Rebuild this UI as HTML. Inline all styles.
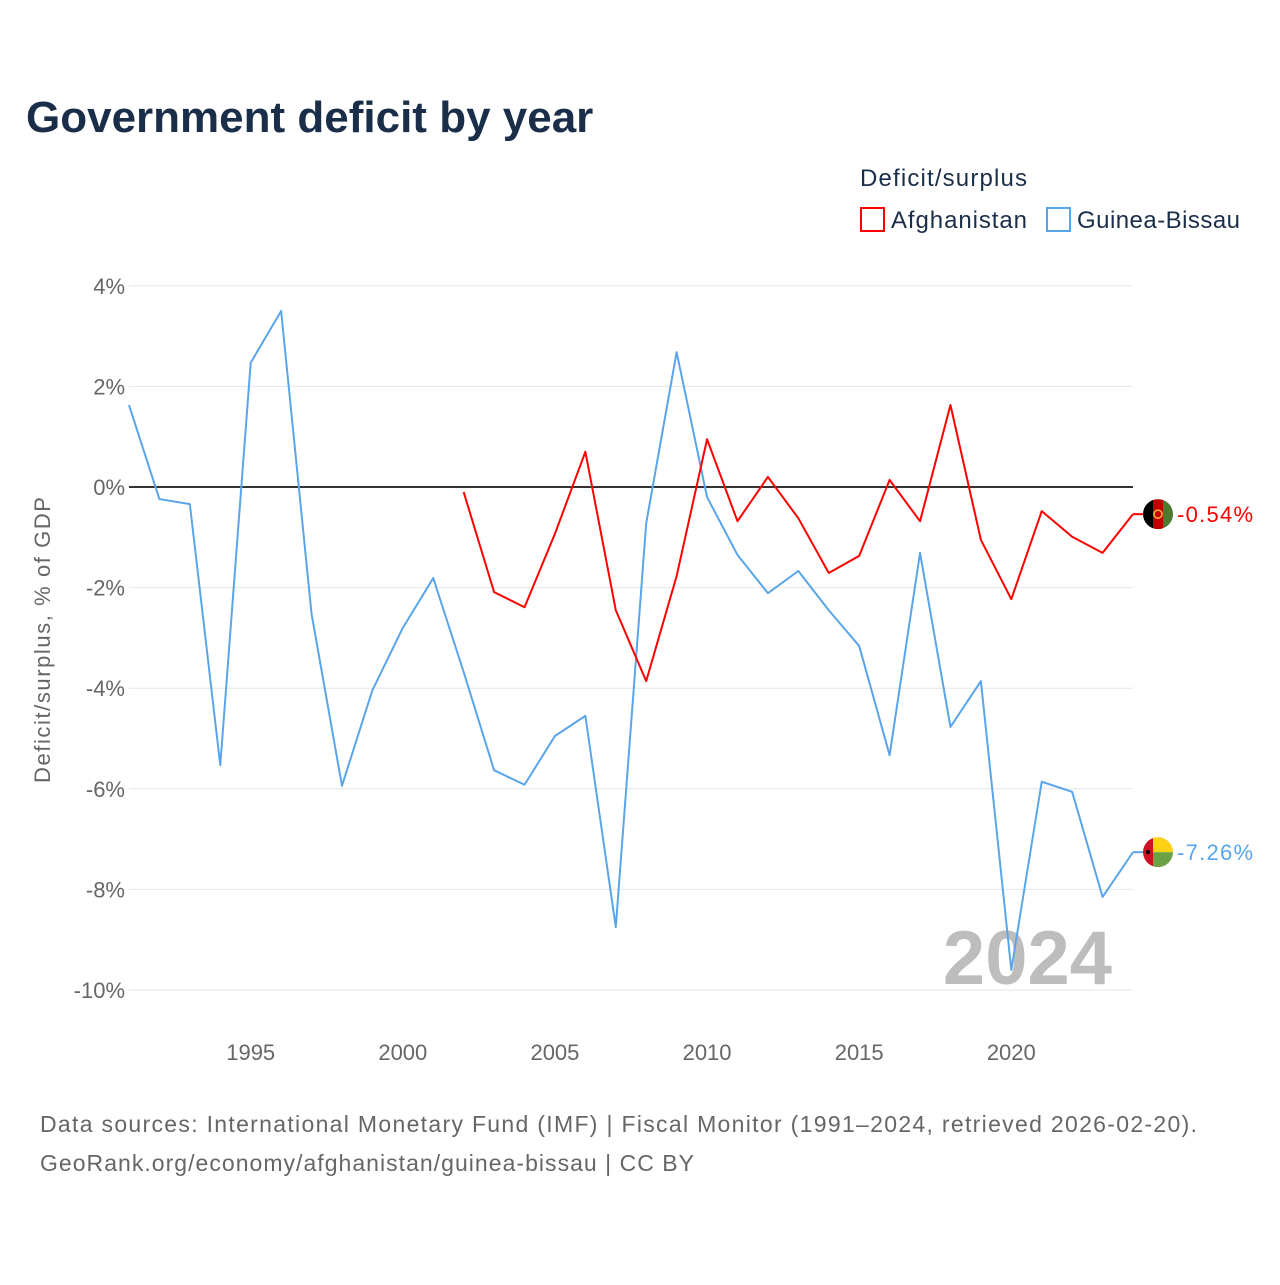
<!DOCTYPE html>
<html><head><meta charset="utf-8"><style>
body{margin:0;background:#fff;font-family:"Liberation Sans",sans-serif}
#wrap{position:relative;width:1280px;height:1280px}
</style></head><body>
<div id="wrap">
<svg id="chart" width="1280" height="1280"></svg>
</div>
<script>
const tickValues=[4,2,0,-2,-4,-6,-8,-10];
const tickLabels=["4%","2%","0%","-2%","-4%","-6%","-8%","-10%"];
const xTicks=[1995,2000,2005,2010,2015,2020];
const gbYears=[1991,1992,1993,1994,1995,1996,1997,1998,1999,2000,2001,2002,2003,2004,2005,2006,2007,2008,2009,2010,2011,2012,2013,2014,2015,2016,2017,2018,2019,2020,2021,2022,2023,2024];
const gbValues=[1.63,-0.24,-0.34,-5.53,2.47,3.5,-2.52,-5.94,-4.04,-2.8,-1.81,-3.68,-5.63,-5.92,-4.95,-4.55,-8.75,-0.72,2.68,-0.2,-1.35,-2.11,-1.67,-2.45,-3.16,-5.33,-1.31,-4.77,-3.86,-9.6,-5.86,-6.06,-8.15,-7.26];
const afYears=[2002,2003,2004,2005,2006,2007,2008,2009,2010,2011,2012,2013,2014,2015,2016,2017,2018,2019,2020,2021,2022,2023,2024];
const afValues=[-0.1,-2.09,-2.39,-0.93,0.7,-2.45,-3.86,-1.77,0.95,-0.68,0.2,-0.62,-1.71,-1.37,0.14,-0.68,1.63,-1.05,-2.23,-0.48,-0.99,-1.31,-0.54];

const X=y=>129+(y-1991)*(1133-129)/33;
const Y=v=>487-v*50.3;
const ns="http://www.w3.org/2000/svg";
const svg=document.getElementById('chart');
function mk(tag,attrs,text,parent){const e=document.createElementNS(ns,tag);for(const k in attrs)e.setAttribute(k,attrs[k]);if(text!==undefined)e.textContent=text;(parent||svg).appendChild(e);return e;}

let t=mk('text',{x:26,y:132,'font-size':44,'font-weight':'bold',fill:'#1a2e4a'},'Government deficit by year');


t=mk('text',{x:860,y:186,'font-size':24,fill:'#1a2e4a',textLength:167},'Deficit/surplus');


let r=mk('rect',{x:861,y:208,width:23,height:23,fill:'none',stroke:'#f00','stroke-width':2});


t=mk('text',{x:891,y:228,'font-size':24,fill:'#1a2e4a',textLength:136},'Afghanistan');


r=mk('rect',{x:1047,y:208,width:23,height:23,fill:'none',stroke:'#5aa5ea','stroke-width':2});


t=mk('text',{x:1077,y:228,'font-size':24,fill:'#1a2e4a',textLength:163},'Guinea-Bissau');



tickValues.forEach((v,i)=>{
  const g=mk('line',{x1:129,x2:1133,y1:Y(v),y2:Y(v),stroke:v===0?'#333':'#e6e6e6','stroke-width':v===0?2:1});
  
  
  const l=mk('text',{x:125,y:Y(v)+8,'font-size':22,fill:'#666','text-anchor':'end'},tickLabels[i]);
  
  
});
xTicks.forEach(y=>{
  const l=mk('text',{x:X(y),y:1060,'font-size':22,fill:'#666','text-anchor':'middle'},String(y));
  
  
});
t=mk('text',{x:0,y:0,'font-size':22,fill:'#666','text-anchor':'middle',transform:'translate(50,640) rotate(-90)',textLength:286},'Deficit/surplus, % of GDP');


t=mk('text',{x:1112,y:984,'font-size':76,'font-weight':'bold',fill:'#bdbdbd','text-anchor':'end'},'2024');



function line(years,vals,color,name){
  const p=mk('polyline',{points:years.map((y,i)=>X(y)+','+Y(vals[i])).join(' '),fill:'none',stroke:color,'stroke-width':2,'stroke-linejoin':'round'});
  
  
}
line(gbYears,gbValues,'#5aa5ea','line-guinea-bissau');
line(afYears,afValues,'#f00','line-afghanistan');

const defs=mk('defs',{});
function endLabel(years,vals,color,name,flag){
  const v=vals[vals.length-1],x=X(years[years.length-1]),y=Y(v);
  const cx=x+25;
  const cp=mk('clipPath',{id:'clip-'+name},undefined,defs);
  mk('circle',{cx:cx,cy:y,r:15},undefined,cp);
  mk('line',{x1:x,x2:x+10,y1:y,y2:y,stroke:color,'stroke-width':2});
  const g=mk('g',{'clip-path':'url(#clip-'+name+')'});
  
  
  flag(g,cx,y);
  const l=mk('text',{x:x+44,y:y+8,'font-size':22,fill:color,textLength:76},v.toFixed(2)+'%');
  
  
}
endLabel(afYears,afValues,'#f00','afghanistan',(g,cx,cy)=>{
  mk('rect',{x:cx-15,y:cy-15,width:10,height:30,fill:'#000'},undefined,g);
  mk('rect',{x:cx-5,y:cy-15,width:10,height:30,fill:'#be0000'},undefined,g);
  mk('rect',{x:cx+5,y:cy-15,width:10,height:30,fill:'#4c7a2e'},undefined,g);
  mk('circle',{cx:cx,cy:cy,r:4,fill:'none',stroke:'#f2c230','stroke-width':1.5},undefined,g);
});
endLabel(gbYears,gbValues,'#5aa5ea','guinea-bissau',(g,cx,cy)=>{
  mk('rect',{x:cx-5,y:cy-15,width:20,height:15,fill:'#fcd116'},undefined,g);
  mk('rect',{x:cx-5,y:cy,width:20,height:15,fill:'#6ea046'},undefined,g);
  mk('rect',{x:cx-15,y:cy-15,width:10,height:30,fill:'#ce1126'},undefined,g);
  mk('circle',{cx:cx-10,cy:cy,r:2,fill:'#000'},undefined,g);
});

t=mk('text',{x:40,y:1132,'font-size':23,fill:'#666',textLength:1157},'Data sources: International Monetary Fund (IMF) | Fiscal Monitor (1991–2024, retrieved 2026-02-20).');


t=mk('text',{x:40,y:1171,'font-size':23,fill:'#666',textLength:654},'GeoRank.org/economy/afghanistan/guinea-bissau | CC BY');


</script>
</body></html>
